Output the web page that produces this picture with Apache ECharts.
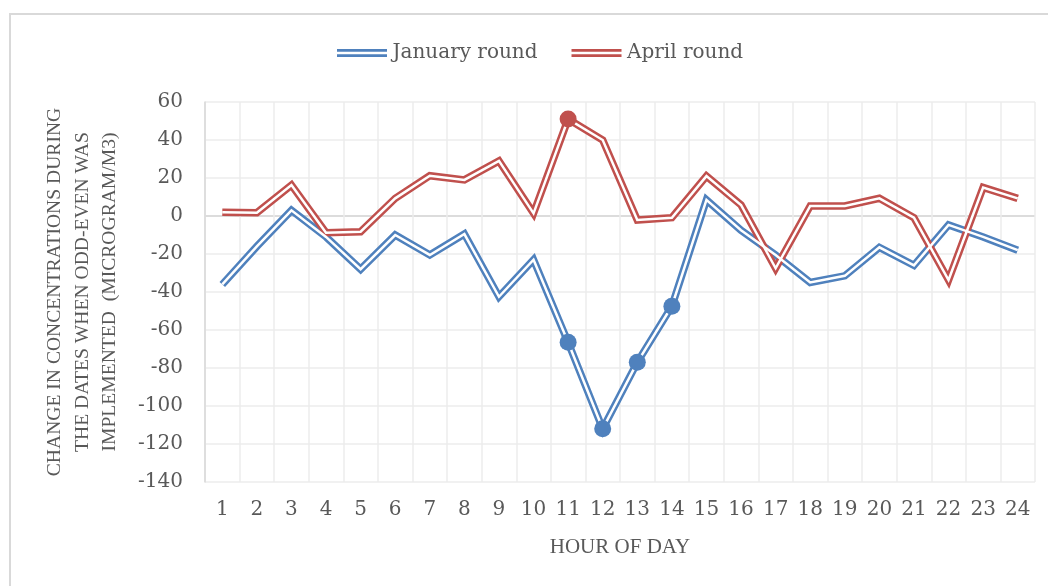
<!DOCTYPE html>
<html>
<head>
<meta charset="utf-8">
<script src="https://cdn.jsdelivr.net/npm/echarts@6/dist/echarts.min.js"></script>
<style>
  html, body { margin: 0; padding: 0; overflow: hidden; background: #fff; }
  #frame { position: absolute; left: 9px; top: 13px; width: 1100px; height: 700px; border: 2px solid #d9d9d9; box-sizing: border-box; }
  #main { position: absolute; left: 0; top: 0; width: 1048px; height: 586px; }
</style>
</head>
<body>
<div id="frame"></div>
<div id="main"></div>
<script>
const hours = ['1', '2', '3', '4', '5', '6', '7', '8', '9', '10', '11', '12',
  '13', '14', '15', '16', '17', '18', '19', '20', '21', '22', '23', '24']
const januaryRound = [-36, -16, 3, -11, -28, -10, -20.5, -9.5, -42.5, -23, -66.5, -112,
  -77, -47.5, 8.5, -7.5, -20.5, -35, -31.5, -16.5, -26, -4.7, -11, -18]
const aprilRound = [2, 1.7, 16.3, -8.8, -8.3, 9.3, 21.2, 19, 29, 1.4, 51, 40,
  -2.1, -0.9, 21, 5.8, -27.5, 5.3, 5.3, 9.3, -0.9, -33.7, 15, 9.3]
// hours (index) that carry a dot marker
const januaryMarks = [10, 11, 12, 13]
const aprilMarks = [10]
const yTicks = [-140, -120, -100, -80, -60, -40, -20, 0, 20, 40, 60]

const blue = '#4f81bd'
const red = '#c0504d'
const textColor = '#595959'

const chart = echarts.init(document.getElementById('main'))

// Excel style "double" line: thick coloured stroke with a thin white stroke on top
function outerLine(name, data, color) {
  return {
    name: name,
    type: 'line',
    data: data,
    symbol: 'none',
    z: 2,
    lineStyle: { color: color, width: 7.5, join: 'miter' },
    itemStyle: { color: color }
  }
}

function innerLine(data, marks, color) {
  return {
    name: 'inner',
    type: 'line',
    data: data.map((v, i) => {
      if (marks.indexOf(i) >= 0) {
        return { value: v, symbol: 'circle', symbolSize: 17, itemStyle: { color: color } }
      }
      return { value: v, symbol: 'none' }
    }),
    z: 3,
    silent: true,
    showAllSymbol: true,
    lineStyle: { color: '#ffffff', width: 2.5, join: 'miter' },
    itemStyle: { color: color }
  }
}

// split line at zero drawn darker, like Excel's horizontal axis
const splitColors = yTicks.map((t) => (t === 0 ? '#d0d0d0' : '#ececec'))

const option = {
  animation: false,
  legend: {
    data: [
      { name: 'January round', icon: 'path://M0,0H50V2.8H0Z M0,5.2H50V8H0Z' },
      { name: 'April round', icon: 'path://M0,0H50V2.8H0Z M0,5.2H50V8H0Z' }
    ],
    top: 38,
    left: 332,
    itemWidth: 51,
    itemHeight: 8,
    itemGap: 34,
    textStyle: { fontFamily: 'DejaVu Serif', fontSize: 20, color: textColor }
  },
  grid: {
    left: 205,
    right: 13,
    top: 102,
    bottom: 104,
    containLabel: false
  },
  xAxis: {
    type: 'category',
    data: hours,
    boundaryGap: true,
    name: 'HOUR OF DAY',
    nameLocation: 'middle',
    nameGap: 55,
    nameTextStyle: { fontFamily: 'Liberation Serif', fontSize: 21, color: textColor },
    axisLine: { show: false },
    axisTick: { show: false },
    axisLabel: { fontFamily: 'DejaVu Serif', fontSize: 20, color: textColor, margin: 18, interval: 0 },
    splitLine: { show: true, lineStyle: { color: '#ececec', width: 1.5 } }
  },
  yAxis: {
    type: 'value',
    min: -140,
    max: 60,
    interval: 20,
    name: 'CHANGE IN CONCENTRATIONS DURING\nTHE DATES WHEN ODD-EVEN WAS\nIMPLEMENTED  (MICROGRAM/M3)',
    nameLocation: 'middle',
    nameGap: 81,
    nameTextStyle: { fontFamily: 'Liberation Serif', fontSize: 19.6, color: textColor, lineHeight: 27.5 },
    axisLine: { show: true, lineStyle: { color: '#d9d9d9', width: 1.5 } },
    axisTick: { show: false },
    axisLabel: { fontFamily: 'DejaVu Serif', fontSize: 20, color: textColor, margin: 22 },
    splitLine: { show: true, lineStyle: { color: splitColors, width: 1.5 } }
  },
  series: [
    outerLine('January round', januaryRound, blue),
    outerLine('April round', aprilRound, red),
    innerLine(januaryRound, januaryMarks, blue),
    innerLine(aprilRound, aprilMarks, red)
  ]
}

chart.setOption(option)
</script>
</body>
</html>
